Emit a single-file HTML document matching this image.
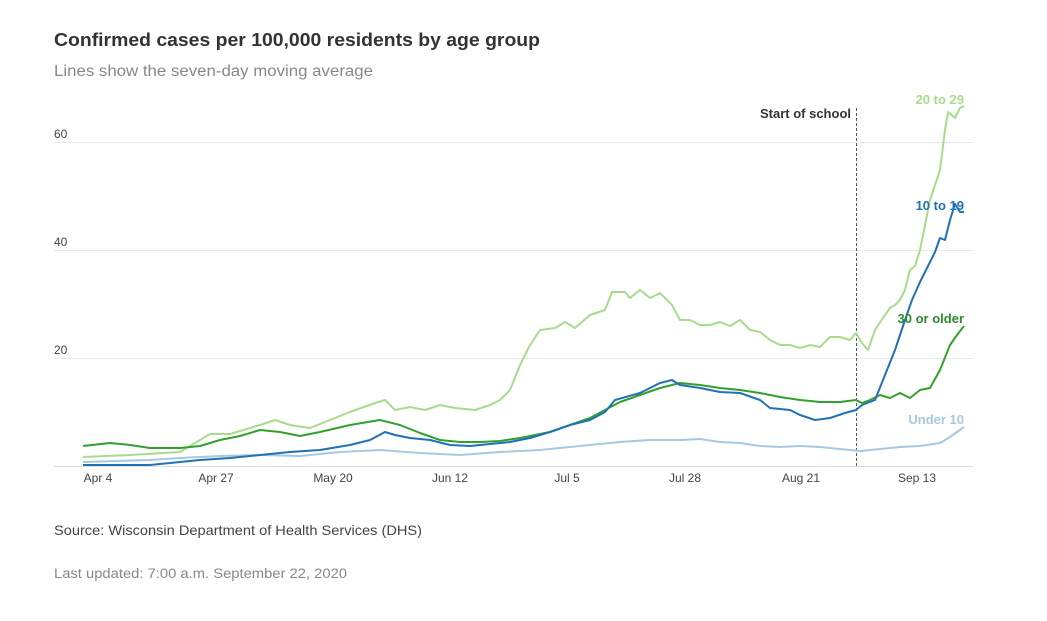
<!DOCTYPE html>
<html><head><meta charset="utf-8"><style>
body{margin:0;background:#fff;width:1047px;height:616px;overflow:hidden;font-family:"Liberation Sans",sans-serif}
</style></head><body>
<svg width="1047" height="616" xmlns="http://www.w3.org/2000/svg" font-family="Liberation Sans, sans-serif">
<text x="54" y="46" font-size="18.5" font-weight="bold" fill="#333" textLength="486" lengthAdjust="spacingAndGlyphs">Confirmed cases per 100,000 residents by age group</text>
<text x="54" y="76" font-size="15.5" fill="#888" textLength="319" lengthAdjust="spacingAndGlyphs">Lines show the seven-day moving average</text>
<g stroke="#e8e8e8" stroke-width="1">
<line x1="54" x2="973" y1="142.5" y2="142.5"/><line x1="54" x2="973" y1="250.5" y2="250.5"/><line x1="54" x2="973" y1="358.5" y2="358.5"/>
</g>
<line x1="54" x2="973" y1="466.5" y2="466.5" stroke="#ddd"/>
<g font-size="12" fill="#444">
<text x="54" y="138">60</text><text x="54" y="246">40</text><text x="54" y="354">20</text>
</g>
<g font-size="12" fill="#444" text-anchor="middle">
<text x="98" y="482">Apr 4</text><text x="216" y="482">Apr 27</text><text x="333" y="482">May 20</text><text x="450" y="482">Jun 12</text><text x="567" y="482">Jul 5</text><text x="685" y="482">Jul 28</text><text x="801" y="482">Aug 21</text><text x="917" y="482">Sep 13</text>
</g>
<line x1="856.5" x2="856.5" y1="108" y2="466" stroke="#555" stroke-dasharray="3,2"/>
<text x="851" y="118" font-size="13" font-weight="bold" fill="#333" text-anchor="end">Start of school</text>
<g fill="none" stroke-width="2" stroke-linejoin="round">
<polyline stroke="#a6c8e0" points="83,462 150,460 180,458 220,456 260,455 300,456 340,452 380,450 420,453 460,455 500,452 540,450 580,446 620,442 650,440 680,440 700,439 720,442 740,443 760,446 780,447 800,446 820,447 840,449 860,451 880,449 900,447 920,446 940,443 950,437 964,427"/>
<polyline stroke="#a8dc8c" points="83,457 130,455 180,452 200,440 210,434 230,434 260,425 275,420 290,425 310,428 330,420 350,412 375,403 385,400 395,410 410,407 425,410 440,405 455,408 475,410 490,405 500,400 510,390 520,365 530,345 540,330 555,328 565,322 575,328 590,315 605,310 612,292 625,292 630,298 640,290 650,298 660,293 672,305 680,320 690,320 700,325 710,325 720,322 730,326 740,320 750,330 760,332 770,340 780,345 790,345 800,348 810,345 820,347 830,337 840,337 850,340 856,333 862,343 868,350 875,330 885,315 890,308 895,305 900,300 905,290 910,270 915,266 920,250 925,225 930,200 935,185 940,170 945,130 948,112 955,118 960,108 964,106"/>
<polyline stroke="#33a02c" points="83,446 110,443 130,445 150,448 180,448 200,446 220,440 240,436 260,430 280,432 300,436 320,432 350,425 380,420 400,425 420,433 440,440 460,442 480,442 500,441 520,438 550,432 570,425 590,418 605,410 620,402 640,395 660,388 680,383 700,385 720,388 740,390 760,393 780,397 800,400 820,402 840,402 856,400 862,403 870,400 880,395 890,398 900,393 910,398 920,390 930,388 940,370 950,345 957,335 964,326"/>
<polyline stroke="#2171b5" points="83,465 150,465 180,462 200,460 230,458 260,455 290,452 320,450 350,445 370,440 385,432 395,435 410,438 430,440 450,445 470,446 490,444 510,442 530,438 550,432 570,425 590,420 605,412 615,400 640,393 660,383 672,380 680,385 700,388 720,392 740,393 760,400 770,408 790,410 800,415 815,420 830,418 845,413 856,410 862,405 870,402 875,400 885,375 895,350 905,320 912,300 920,282 930,262 935,252 940,238 945,240 950,220 955,204 960,212 964,212"/>
</g>
<g font-size="13" font-weight="bold" text-anchor="end">
<text x="964" y="104" fill="#a8dc8c">20 to 29</text>
<text x="964" y="210" fill="#2171b5">10 to 19</text>
<text x="964" y="323" fill="#2e8b2e">30 or older</text>
<text x="964" y="424" fill="#a6c8e0">Under 10</text>
</g>
<text x="54" y="535" font-size="14" fill="#444" textLength="368" lengthAdjust="spacingAndGlyphs">Source: Wisconsin Department of Health Services (DHS)</text>
<text x="54" y="578" font-size="13.5" fill="#888" textLength="293" lengthAdjust="spacingAndGlyphs">Last updated: 7:00 a.m. September 22, 2020</text>
</svg>
</body></html>
